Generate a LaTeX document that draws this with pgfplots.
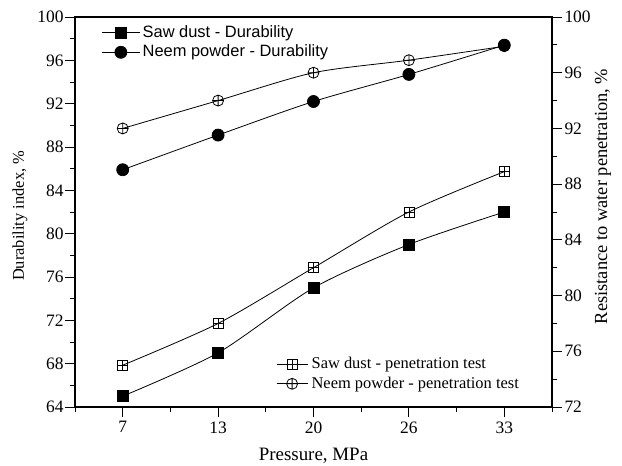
\documentclass[border=0pt]{standalone}
\usepackage{fontspec}
\setmainfont{Liberation Serif}
\newfontfamily\sansf{Liberation Sans}
\usepackage{pgfplots}
\pgfplotsset{compat=1.18}
\usetikzlibrary{plotmarks}

% square with a plus inside
\pgfdeclareplotmark{sqplus}{%
  \pgfpathrectangle{\pgfqpoint{-\pgfplotmarksize}{-\pgfplotmarksize}}{\pgfqpoint{2\pgfplotmarksize}{2\pgfplotmarksize}}%
  \pgfpathmoveto{\pgfqpoint{-\pgfplotmarksize}{0pt}}\pgfpathlineto{\pgfqpoint{\pgfplotmarksize}{0pt}}%
  \pgfpathmoveto{\pgfqpoint{0pt}{-\pgfplotmarksize}}\pgfpathlineto{\pgfqpoint{0pt}{\pgfplotmarksize}}%
  \pgfusepathqstroke}

\newcommand{\tickfont}{\fontsize{17.5}{19}\selectfont}

\pgfplotsset{
  common/.style={
    at={(75bp,59bp)}, anchor=south west,
    width=477bp, height=390bp, scale only axis,
    xmin=-0.5, xmax=4.5,
    tick align=outside,
    major tick length=10bp, minor tick length=5bp,
    every tick/.style={black, line width=0.9bp},
    axis line style={line width=1.1bp},
    tick label style={font=\tickfont},
    /pgf/number format/assume math mode=true,
    legend cell align=left,
  },
  linestyle/.style={black, line width=0.8bp, smooth, tension=0.45},
}

\begin{document}
\begin{tikzpicture}
\useasboundingbox (0,0) rectangle (622bp,466bp);

% left axis: durability
\begin{axis}[common,
  ymin=64, ymax=100,
  ytick={64,68,...,100}, minor ytick={66,70,...,98},
  xtick={0,1,2,3,4}, xticklabels={7,13,20,26,33},
  minor xtick={-0.5,0.5,1.5,2.5,3.5,4.5},
  xtick pos=bottom, ytick pos=left,
  xticklabel style={yshift=-1bp},
  yticklabel style={xshift=2bp},
  xlabel={Pressure, MPa},
  ylabel={Durability index, \%},
  every axis x label/.style={at={([yshift=-49bp]axis description cs:0.5,0)}, anchor=center, font=\fontsize{19}{21}\selectfont},
  every axis y label/.style={at={([xshift=-55bp]axis description cs:0,0.49)}, anchor=center, rotate=90, font=\fontsize{16.5}{18}\selectfont},
  legend style={draw=none, fill=none, at={(axis description cs:0.05,0.985)}, anchor=north west,
    font=\sansf\fontsize{16.5}{18}\selectfont, row sep=4bp,
    nodes={inner ysep=0bp, inner xsep=3bp, text height=12bp, text depth=3.5bp}},
  legend image code/.code={\draw[mark repeat=2,mark phase=2,#1] plot coordinates {(0cm,0cm) (0.65cm,0cm) (1.3cm,0cm)};},
]
\addplot[linestyle, mark=square*, mark size=5.5bp, mark options={solid, fill=black}]
  coordinates {(0,65) (1,69) (2,75) (3,79) (4,82)};
\addlegendentry{Saw dust - Durability}
\addplot[linestyle, mark=*, mark size=6bp, mark options={solid, fill=black}]
  coordinates {(0,85.9) (1,89.1) (2,92.2) (3,94.7) (4,97.4)};
\addlegendentry{Neem powder - Durability}
\end{axis}

% right axis: resistance to water penetration
\begin{axis}[common,
  ymin=72, ymax=100,
  ytick={72,76,...,100}, minor ytick={74,78,...,98},
  axis x line=none, axis y line*=right,
  yticklabel style={xshift=-1bp},
  ylabel={Resistance to water penetration, \%},
  every axis y label/.style={at={([xshift=51bp]axis description cs:1,0.54)}, anchor=center, rotate=90, font=\fontsize{18.5}{20}\selectfont},
  legend style={draw=none, fill=none, at={(axis description cs:0.415,0.135)}, anchor=north west,
    font=\fontsize{16.5}{18}\selectfont, row sep=4bp,
    nodes={inner ysep=0bp, inner xsep=3.5bp, text height=12bp, text depth=3.5bp}},
  legend image code/.code={\draw[mark repeat=2,mark phase=2,#1] plot coordinates {(0cm,0cm) (0.55cm,0cm) (1.1cm,0cm)};},
]
\addplot[linestyle, mark=sqplus, mark size=5bp, mark options={solid, line width=0.8bp}]
  coordinates {(0,75) (1,78) (2,82) (3,86) (4,88.9)};
\addlegendentry{Saw dust - penetration test}
\addplot[linestyle, mark=oplus, mark size=5.5bp, mark options={solid, line width=0.8bp}]
  coordinates {(0,92) (1,94) (2,96) (3,96.9) (4,97.9)};
\addlegendentry{Neem powder - penetration test}
\end{axis}
\end{tikzpicture}
\end{document}
